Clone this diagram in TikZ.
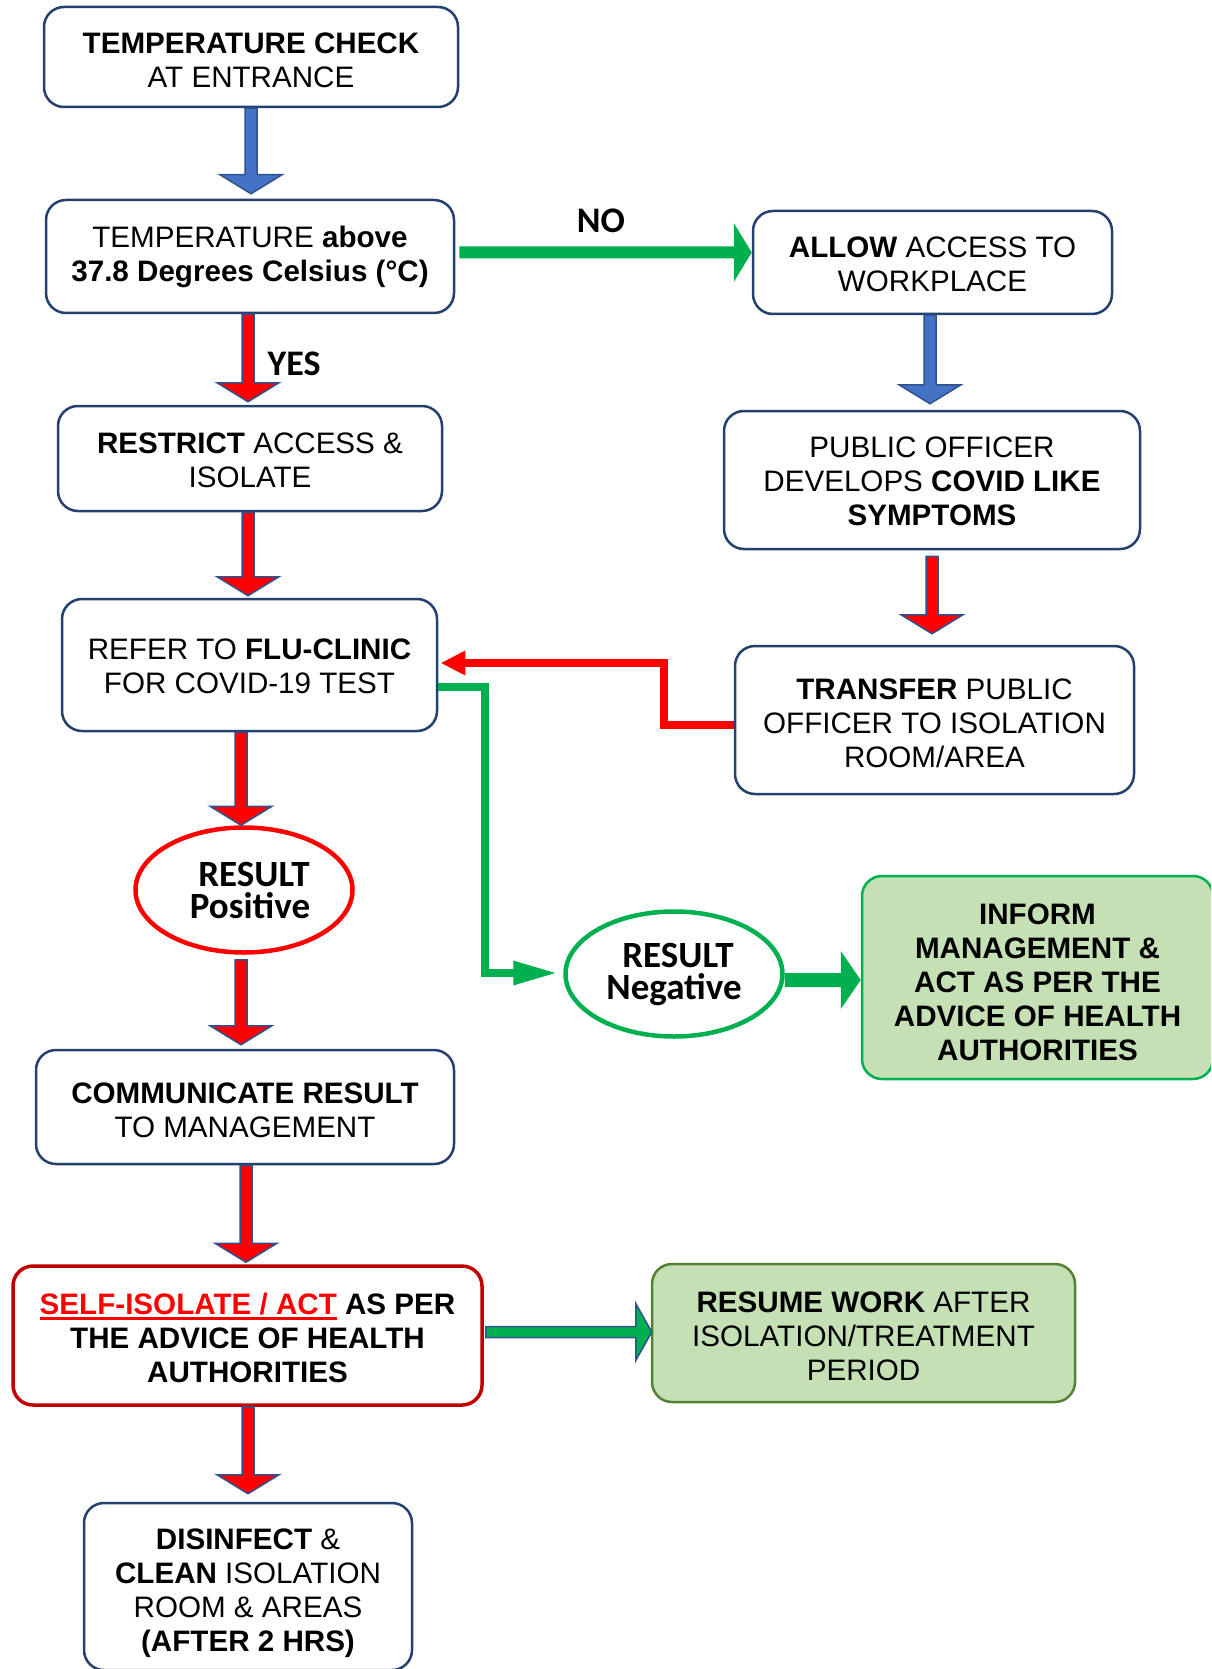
\documentclass[tikz,border=0pt]{standalone}
\usepackage{fontspec}
\setmainfont{Liberation Sans}
\newfontfamily\calib{Carlito}
\usetikzlibrary{calc,shapes.geometric}
\definecolor{navy}{HTML}{24406E}
\definecolor{arrblue}{HTML}{4472C4}
\definecolor{arrline}{HTML}{2F528F}
\definecolor{gr}{HTML}{00B050}
\definecolor{lgr}{HTML}{C5E0B4}
\definecolor{dgr}{HTML}{548235}
\definecolor{dred}{HTML}{C00000}
\newcommand\myul[1]{\leavevmode\setbox0\hbox{#1}\rlap{\rule[-6pt]{\wd0}{3pt}}\box0}
% vertical block arrow: fill, start, end
\newcommand\vblk[3]{\path[blk, fill=#1] let \p1=(#2), \p2=(#3) in
 (\x1-6pt,\y1) -- (\x1+6pt,\y1) -- (\x1+6pt,\y2+19pt) -- (\x1+31pt,\y2+19pt) -- (\x1,\y2)
 -- (\x1-31pt,\y2+19pt) -- (\x1-6pt,\y2+19pt) -- cycle;}
% horizontal block arrow: style, start, end, shaft half, head half, head length
\newcommand\hblk[6]{\path[#1] let \p1=(#2), \p2=(#3) in
 (\x1,\y1-#4) -- (\x2-#6,\y1-#4) -- (\x2-#6,\y1-#5) -- (\x2,\y1) -- (\x2-#6,\y1+#5)
 -- (\x2-#6,\y1+#4) -- (\x1,\y1+#4) -- cycle;}
\tikzset{
 box/.style={draw=navy, line width=2.5pt, rounded corners=20pt, fill=white, align=center,
   font=\fontsize{29.6}{34}\selectfont, inner sep=0pt},
 ts/.style={execute at begin node={\rule{0pt}{#1pt}},
   execute at end node={\rule[-7pt]{0pt}{7pt}}},
 greenbox/.style={box, fill=lgr},
 ell/.style={ellipse, line width=4.5pt, fill=white, align=center,
   font=\calib\bfseries\fontsize{37}{32}\selectfont, inner sep=0pt,
   minimum width=217pt, minimum height=125pt},
 lbl/.style={font=\calib\bfseries\fontsize{36}{36}\selectfont, inner sep=0pt},
 blk/.style={line width=1.5pt, draw=arrline, line join=miter},
}
\begin{document}
\begin{tikzpicture}[x=1pt,y=1pt]
\useasboundingbox (0,0) rectangle (1211,-1669);
\clip (0,0) rectangle (1211,-1669);

% left column
\node[box, ts=68.2, minimum width=414pt, minimum height=100pt] (b1) at (251,-57)
  {\textbf{TEMPERATURE CHECK}\\AT ENTRANCE};
\node[box, ts=57.2, minimum width=408pt, minimum height=113pt] (b2) at (250,-256.5)
  {TEMPERATURE \textbf{above}\\\textbf{37.8 Degrees Celsius (°C)}};
\node[box, ts=64.2, minimum width=384pt, minimum height=105pt] (restrict) at (250,-458.5)
  {\textbf{RESTRICT} ACCESS \&\\ISOLATE};
\node[box, ts=64.2, minimum width=375pt, minimum height=132pt] (refer) at (249.5,-665)
  {REFER TO \textbf{FLU-CLINIC}\\FOR COVID-19 TEST};
\node[ell, draw=red] (pos) at (244,-890) {\hspace*{20pt}RESULT\\\hspace*{12pt}Positive};
\node[box, ts=67.2, minimum width=418pt, minimum height=114pt] (comm) at (245,-1107)
  {\textbf{COMMUNICATE RESULT}\\TO MANAGEMENT};
\node[box, ts=100.2, draw=dred, line width=3.5pt, minimum width=469pt, minimum height=139pt] (self) at (247.5,-1335.5)
  {{\color{red}\bfseries\myul{SELF-ISOLATE / ACT}} \textbf{AS PER}\\\textbf{THE ADVICE OF HEALTH}\\\textbf{AUTHORITIES}};
\node[box, ts=136.2, minimum width=328pt, minimum height=167pt] (disinfect) at (248,-1586.5)
  {\textbf{DISINFECT} \&\\\textbf{CLEAN} ISOLATION\\ROOM \& AREAS\\\textbf{(AFTER 2 HRS)}};

% right column
\node[box, ts=64.2, minimum width=359pt, minimum height=103pt] (allow) at (932.5,-262.5)
  {\textbf{ALLOW} ACCESS TO\\WORKPLACE};
\node[box, ts=98.2, minimum width=416pt, minimum height=138pt] (public) at (932,-480)
  {PUBLIC OFFICER\\DEVELOPS \textbf{COVID LIKE}\\\textbf{SYMPTOMS}};
\node[box, ts=102.6, minimum width=399pt, minimum height=148pt] (transfer) at (934.5,-720)
  {\textbf{TRANSFER} PUBLIC\\OFFICER TO ISOLATION\\ROOM/AREA};
\node[ell, draw=gr] (neg) at (674,-974) {\hspace*{8pt}RESULT\\Negative};
\node[greenbox, ts=172.2, draw=gr, minimum width=351pt, minimum height=203pt] (inform) at (1037.5,-977.5)
  {\textbf{INFORM}\\\textbf{MANAGEMENT \&}\\\textbf{ACT AS PER THE}\\\textbf{ADVICE OF HEALTH}\\\textbf{AUTHORITIES}};
\node[greenbox, ts=102.2, draw=dgr, minimum width=423pt, minimum height=138pt] (resume) at (863.5,-1333)
  {\textbf{RESUME WORK} AFTER\\ISOLATION/TREATMENT\\PERIOD};

% labels
\node[lbl] (nolbl) at (601,-221) {NO};
\node[lbl] (yeslbl) at (294,-364) {YES};

% vertical block arrows
\vblk{arrblue}{b1.south}{$(b2.north)+(0,5)$}
\vblk{red}{$(b2.south)+(-2,0)$}{$(restrict.north)+(0,3)$}
\vblk{red}{$(restrict.south)+(-2,0)$}{$(refer.north)+(0,2)$}
\coordinate (rp) at ($(refer.south -| pos.north)+(-3,0)$);
\vblk{red}{rp}{pos.north}
\vblk{red}{$(pos.south)+(-3,-5)$}{$(comm.north)+(0,4)$}
\vblk{red}{$(comm.south)+(1,0)$}{$(self.north)+(0,2)$}
\vblk{red}{$(self.south)+(0.5,0)$}{$(disinfect.north)+(0,8)$}
\vblk{arrblue}{$(allow.south)+(-2.5,0)$}{$(public.north)+(0,6)$}
\vblk{red}{$(public.south)+(0,-6)$}{$(transfer.north)+(0,11)$}

% horizontal block arrows
\coordinate (noS) at ($(b2.east)+(4,4)$);
\coordinate (noE) at (allow.west |- noS);
\hblk{fill=gr}{noS}{noE}{6pt}{29.5pt}{18pt}
\coordinate (nS) at ($(neg.east)+(0,-6)$);
\coordinate (nE) at (inform.west |- nS);
\hblk{fill=gr}{nS}{nE}{7pt}{29pt}{20pt}
\coordinate (sS) at ($(self.east)+(2,3.5)$);
\coordinate (sE) at ($(resume.west |- sS)+(1,0)$);
\hblk{blk,fill=gr}{sS}{sE}{5.5pt}{28.5pt}{16pt}

% red elbow connector transfer -> refer
\coordinate (tA) at ($(transfer.west)+(0,-5)$);
\coordinate (rb) at (664,-663);
\coordinate (rT) at ($(refer.east |- rb)+(3,0)$);
\draw[red, line width=8pt, line join=miter] (tA) -| (rb) -- ($(rT)+(20,0)$);
\fill[red] (rT) -- ++(24,12.5) -- ++(0,-25) -- cycle;

% green elbow connector refer -> negative
\coordinate (gA) at ($(refer.east)+(0,-22)$);
\coordinate (gb) at (485,-973);
\coordinate (gT) at ($(neg.west |- gb)+(-8,0)$);
\draw[gr, line width=8pt, line join=miter] (gA) -| (gb) -- ($(gT)+(-40,0)$);
\fill[gr] (gT) -- ++(-42,12.5) -- ++(0,-25) -- cycle;
\end{tikzpicture}
\end{document}
